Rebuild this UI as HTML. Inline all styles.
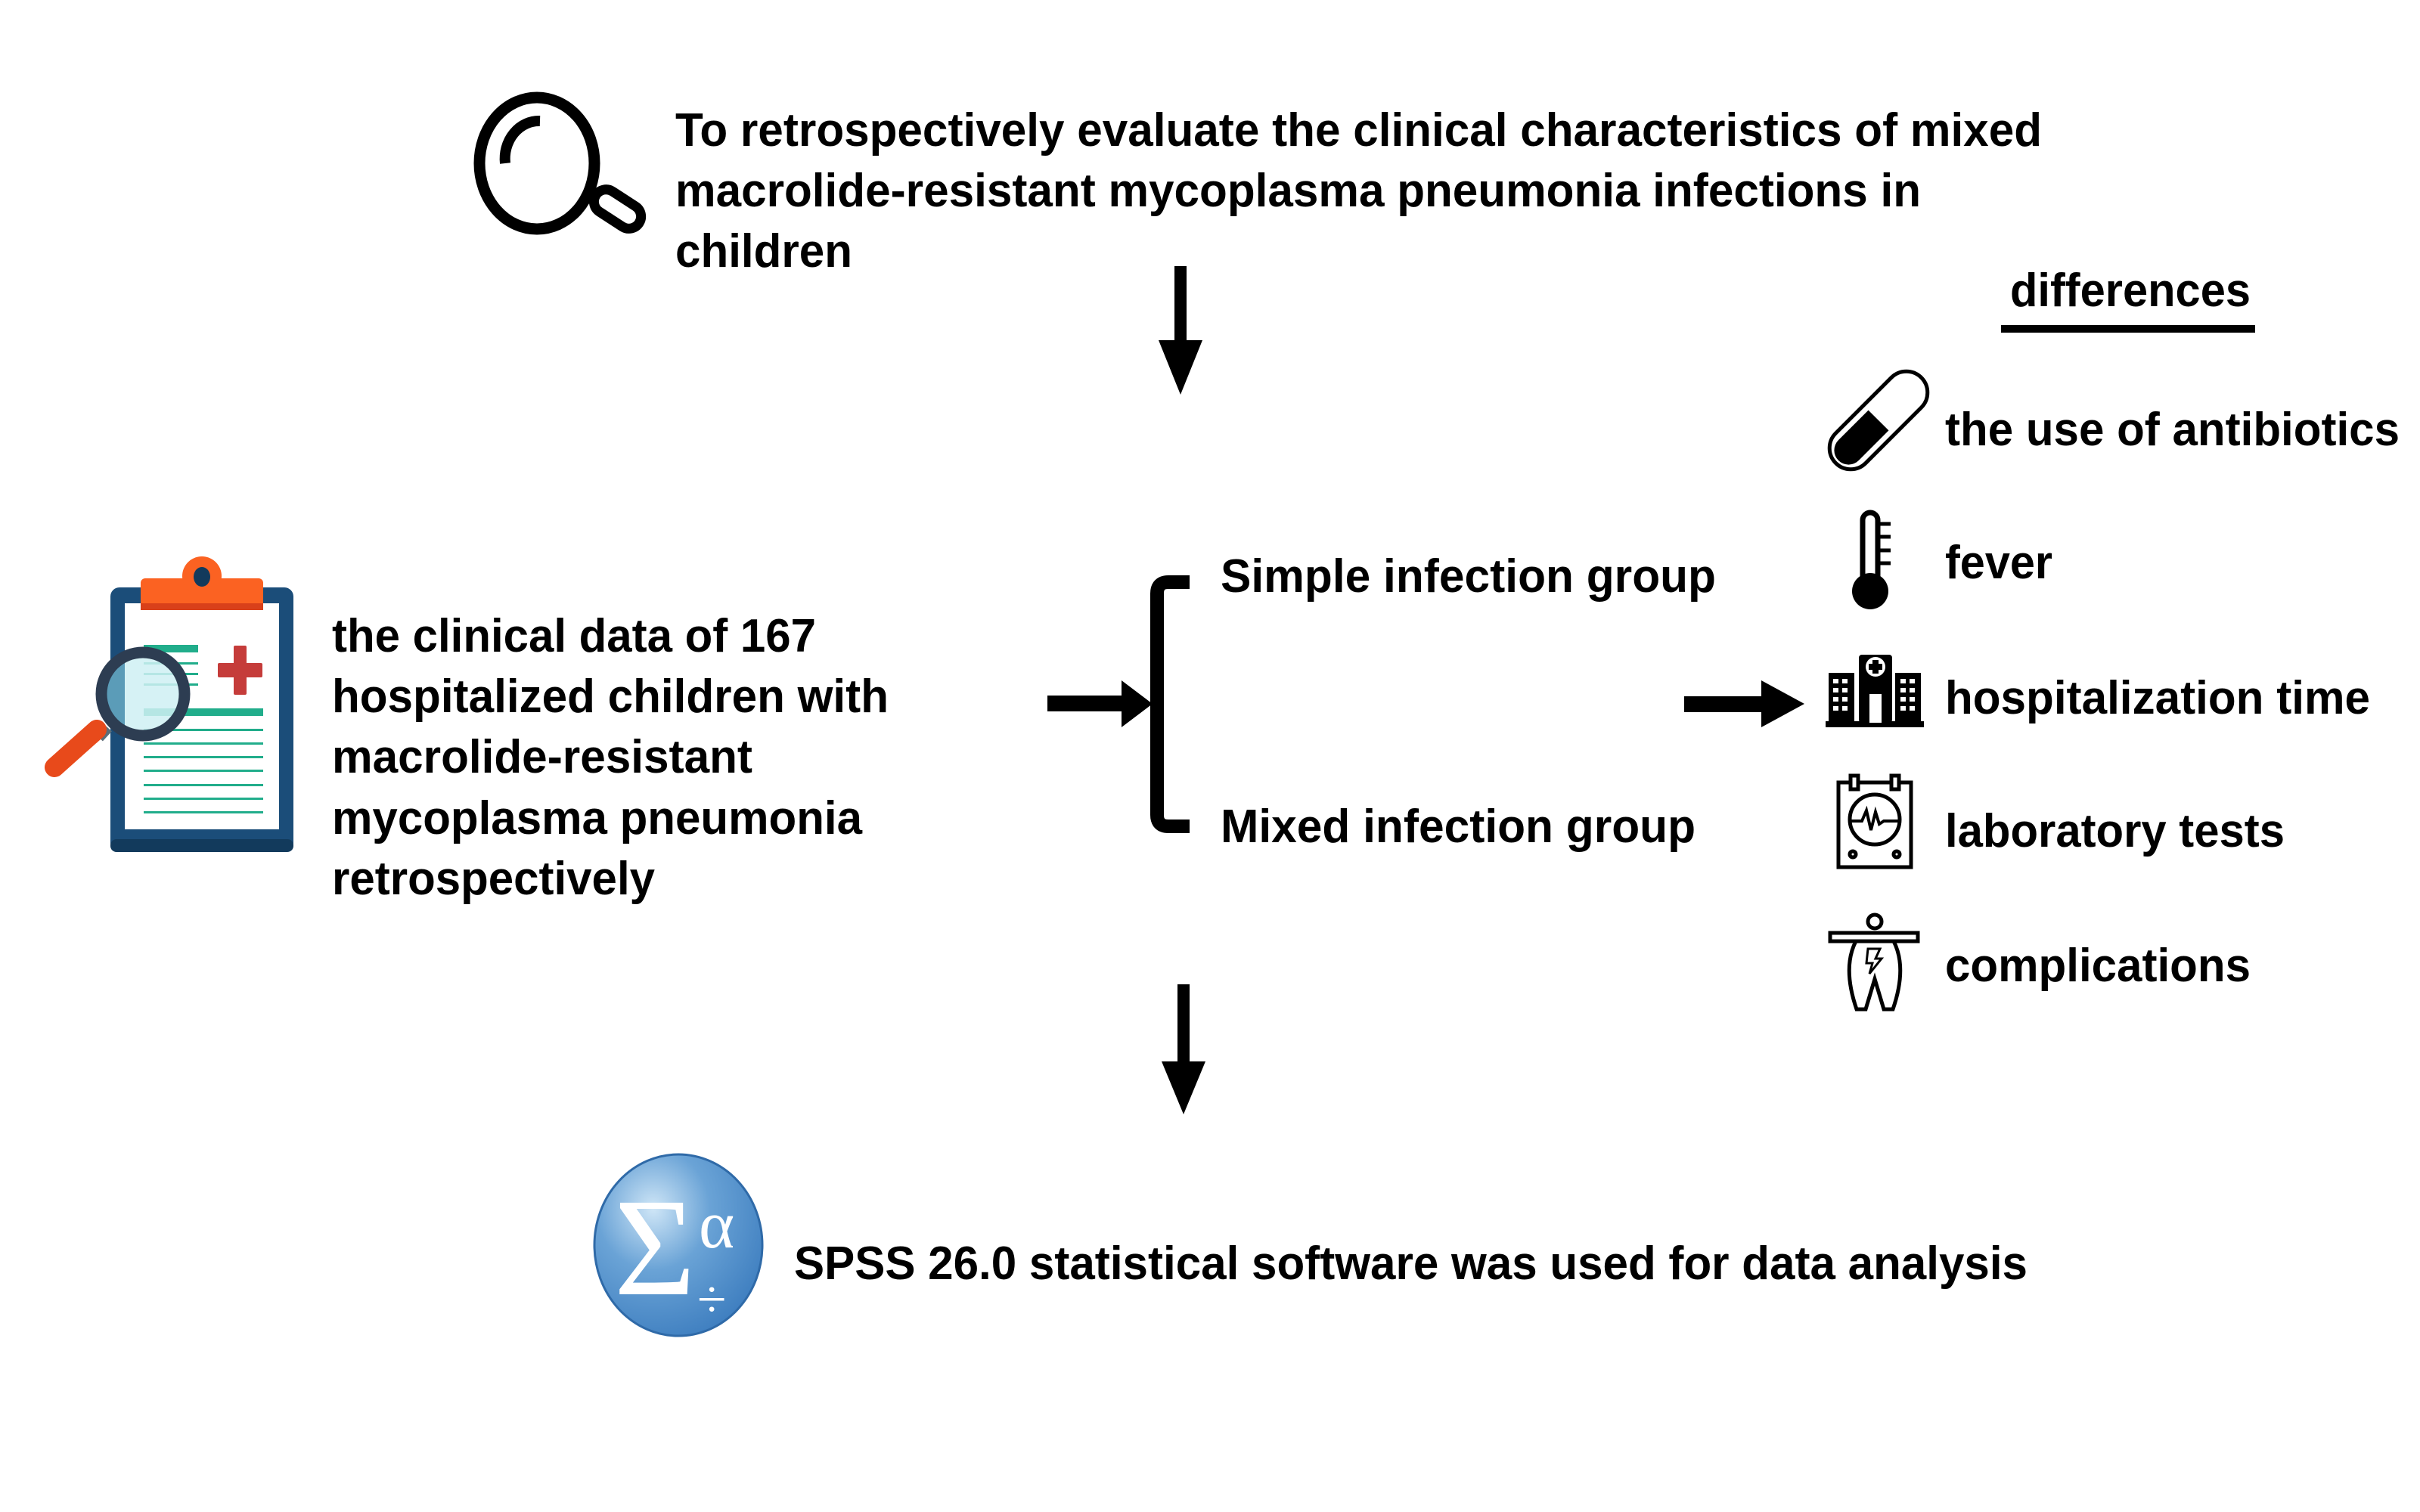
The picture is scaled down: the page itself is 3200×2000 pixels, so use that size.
<!DOCTYPE html>
<html><head><meta charset="utf-8"><style>
html,body{margin:0;padding:0;background:#fff;}
svg{display:block}
text{font-family:"Liberation Sans",Arial,sans-serif;font-weight:bold;fill:#000;}
</style></head><body>
<svg width="3200" height="2000" viewBox="0 0 3200 2000" xmlns="http://www.w3.org/2000/svg">
<defs>
<radialGradient id="bg" cx="0.35" cy="0.3" r="0.75">
<stop offset="0" stop-color="#cfe6f7"/><stop offset="0.45" stop-color="#6aa3d6"/><stop offset="1" stop-color="#3f7fc0"/>
</radialGradient>
</defs>
<rect width="3200" height="2000" fill="#fff"/>

<!-- top magnifier -->
<ellipse cx="710" cy="216" rx="76" ry="87" fill="none" stroke="#000" stroke-width="15"/>
<path d="M668 216 A45 50 0 0 1 714 160" fill="none" stroke="#000" stroke-width="14"/>
<g transform="translate(788,258) rotate(33)">
<rect x="0" y="-16" width="68" height="32" rx="16" fill="none" stroke="#000" stroke-width="13"/>
</g>

<text x="893" y="193" font-size="62" textLength="1807" lengthAdjust="spacingAndGlyphs">To retrospectively evaluate the clinical characteristics of mixed</text>
<text x="893" y="273" font-size="62" textLength="1647" lengthAdjust="spacingAndGlyphs">macrolide-resistant mycoplasma pneumonia infections in</text>
<text x="893" y="353" font-size="62" textLength="234" lengthAdjust="spacingAndGlyphs">children</text>

<!-- down arrow 1 -->
<rect x="1553" y="352" width="16" height="102" fill="#000"/>
<polygon points="1532,450 1590,450 1561,522" fill="#000"/>

<!-- differences -->
<text x="2658" y="405" font-size="62" textLength="318" lengthAdjust="spacingAndGlyphs">differences</text>
<rect x="2646" y="430" width="336" height="10" fill="#000"/>

<!-- clipboard -->
<rect x="146" y="777" width="242" height="350" rx="12" fill="#1b4d79"/>
<rect x="146" y="1110" width="242" height="17" rx="8" fill="#123a5c"/>
<rect x="165" y="798" width="204" height="299" fill="#fff"/>
<rect x="186" y="765" width="162" height="42" rx="6" fill="#fb6222"/>
<rect x="186" y="798" width="162" height="9" fill="#d9401a"/>
<circle cx="267" cy="762" r="26" fill="#fb6222"/>
<ellipse cx="267" cy="763" rx="11" ry="13" fill="#123a5c"/>
<g fill="#21ad8b">
<rect x="190" y="853" width="72" height="10"/>
<rect x="190" y="876" width="72" height="3"/><rect x="190" y="890" width="72" height="3"/><rect x="190" y="904" width="72" height="3"/>
<rect x="190" y="937" width="158" height="10"/>
<rect x="190" y="964" width="158" height="3"/><rect x="190" y="982" width="158" height="3"/><rect x="190" y="1000" width="158" height="3"/>
<rect x="190" y="1018" width="158" height="3"/><rect x="190" y="1037" width="158" height="3"/><rect x="190" y="1055" width="158" height="3"/><rect x="190" y="1073" width="158" height="3"/>
</g>
<rect x="309" y="854" width="17" height="65" rx="2" fill="#c53c3a"/>
<rect x="288" y="877" width="59" height="19" rx="2" fill="#c53c3a"/>
<line x1="130" y1="975" x2="142" y2="962" stroke="#5d6d78" stroke-width="16"/>
<line x1="72" y1="1015" x2="128" y2="965" stroke="#e84a1b" stroke-width="26" stroke-linecap="round"/>
<circle cx="189" cy="918" r="48" fill="#cff0f3" fill-opacity="0.85"/>
<path d="M165 876 L165 960 A48 48 0 0 1 165 876 Z" fill="#5b9cb8"/>
<circle cx="189" cy="918" r="55" fill="none" stroke="#2d3d52" stroke-width="15"/>

<text x="439" y="862" font-size="62" textLength="640" lengthAdjust="spacingAndGlyphs">the clinical data of 167</text>
<text x="439" y="942" font-size="62" textLength="736" lengthAdjust="spacingAndGlyphs">hospitalized children with</text>
<text x="439" y="1022" font-size="62" textLength="556" lengthAdjust="spacingAndGlyphs">macrolide-resistant</text>
<text x="439" y="1103" font-size="62" textLength="701" lengthAdjust="spacingAndGlyphs">mycoplasma pneumonia</text>
<text x="439" y="1183" font-size="62" textLength="427" lengthAdjust="spacingAndGlyphs">retrospectively</text>

<!-- left arrow into bracket -->
<rect x="1385" y="920" width="100" height="21" fill="#000"/>
<polygon points="1483,900 1524,931 1483,962" fill="#000"/>
<!-- bracket -->
<path d="M1573 770 L1545 770 Q1530 770 1530 785 L1530 1078 Q1530 1093 1545 1093 L1573 1093" fill="none" stroke="#000" stroke-width="18"/>

<text x="1614" y="783" font-size="62" textLength="655" lengthAdjust="spacingAndGlyphs">Simple infection group</text>
<text x="1614" y="1114" font-size="62" textLength="628" lengthAdjust="spacingAndGlyphs">Mixed infection group</text>

<!-- right arrow -->
<rect x="2227" y="921" width="104" height="21" fill="#000"/>
<polygon points="2329,900 2386,931 2329,962" fill="#000"/>

<!-- pill -->
<g transform="translate(2484,556) rotate(-45)">
<rect x="-80" y="-28" width="160" height="56" rx="28" fill="none" stroke="#000" stroke-width="5"/>
<path d="M0 -19 L-56 -19 A19 19 0 0 0 -56 19 L0 19 Z" fill="#000"/>
</g>
<text x="2572" y="589" font-size="62" textLength="601" lengthAdjust="spacingAndGlyphs">the use of antibiotics</text>

<!-- thermometer -->
<rect x="2463" y="678" width="20" height="100" rx="10" fill="none" stroke="#000" stroke-width="7"/>
<circle cx="2473" cy="782" r="24" fill="#000"/>
<g stroke="#000" stroke-width="5"><line x1="2485" y1="693" x2="2500" y2="693"/><line x1="2485" y1="710" x2="2500" y2="710"/><line x1="2485" y1="728" x2="2500" y2="728"/><line x1="2485" y1="745" x2="2500" y2="745"/></g>
<text x="2572" y="765" font-size="62" textLength="142" lengthAdjust="spacingAndGlyphs">fever</text>

<!-- hospital -->
<g transform="translate(-10,0)">
<rect x="2424" y="954" width="130" height="8" fill="#000"/>
<rect x="2428" y="890" width="34" height="66" fill="#000"/>
<rect x="2516" y="890" width="34" height="66" fill="#000"/>
<rect x="2468" y="866" width="44" height="90" rx="4" fill="#000"/>
<circle cx="2490" cy="882" r="13" fill="#fff"/>
<path d="M2486 873h8v5h5v8h-5v5h-8v-5h-5v-8h5z" fill="#000"/>
<rect x="2482" y="918" width="16" height="38" fill="#fff"/>
<g fill="#fff">
<rect x="2434" y="898" width="7" height="6"/><rect x="2446" y="898" width="7" height="6"/>
<rect x="2434" y="910" width="7" height="6"/><rect x="2446" y="910" width="7" height="6"/>
<rect x="2434" y="922" width="7" height="6"/><rect x="2446" y="922" width="7" height="6"/>
<rect x="2434" y="934" width="7" height="6"/><rect x="2446" y="934" width="7" height="6"/>
<rect x="2523" y="898" width="7" height="6"/><rect x="2535" y="898" width="7" height="6"/>
<rect x="2523" y="910" width="7" height="6"/><rect x="2535" y="910" width="7" height="6"/>
<rect x="2523" y="922" width="7" height="6"/><rect x="2535" y="922" width="7" height="6"/>
<rect x="2523" y="934" width="7" height="6"/><rect x="2535" y="934" width="7" height="6"/>
</g>
</g>
<text x="2572" y="944" font-size="62" textLength="562" lengthAdjust="spacingAndGlyphs">hospitalization time</text>

<!-- lab device -->
<g fill="none" stroke="#000" stroke-width="5" transform="translate(-8,0)">
<rect x="2439" y="1035" width="96" height="112"/>
<rect x="2455" y="1026" width="10" height="18" fill="#fff"/>
<rect x="2509" y="1026" width="10" height="18" fill="#fff"/>
<circle cx="2487" cy="1084" r="33"/>
<path d="M2455 1086 H2470 L2476 1072 L2482 1098 L2488 1074 L2493 1090 L2499 1086 H2519" stroke-width="4"/>
<circle cx="2458" cy="1130" r="4"/><circle cx="2516" cy="1130" r="4"/>
</g>
<text x="2572" y="1120" font-size="62" textLength="449" lengthAdjust="spacingAndGlyphs">laboratory tests</text>

<!-- person -->
<g fill="none" stroke="#000" stroke-width="5" transform="translate(-8,0)">
<circle cx="2487" cy="1219" r="9"/>
<rect x="2428" y="1234" width="116" height="11"/>
<path d="M2462 1245 Q2444 1280 2463 1335 L2475 1335 L2487 1295 L2499 1335 L2511 1335 Q2530 1280 2512 1245"/>
<path d="M2478 1255 L2494 1255 L2488 1268 L2496 1268 L2480 1288 L2484 1274 L2476 1274 Z" stroke-width="3"/>
</g>
<text x="2572" y="1298" font-size="62" textLength="404" lengthAdjust="spacingAndGlyphs">complications</text>

<!-- down arrow 2 -->
<rect x="1557" y="1302" width="16" height="106" fill="#000"/>
<polygon points="1536,1404 1594,1404 1565,1474" fill="#000"/>

<!-- SPSS logo -->
<ellipse cx="897" cy="1647" rx="111" ry="120" fill="url(#bg)" stroke="#2f6aa8" stroke-width="3"/>
<text x="812" y="1712" font-size="185" style="font-family:'Liberation Serif',serif;font-weight:normal;fill:#fff">Σ</text>
<text x="924" y="1650" font-size="90" style="font-family:'Liberation Serif',serif;font-weight:normal;fill:#fff">α</text>
<text x="922" y="1742" font-size="70" style="font-family:'Liberation Serif',serif;font-weight:normal;fill:#fff">÷</text>

<text x="1050" y="1692" font-size="62" textLength="1631" lengthAdjust="spacingAndGlyphs">SPSS 26.0 statistical software was used for data analysis</text>
</svg>
</body></html>
